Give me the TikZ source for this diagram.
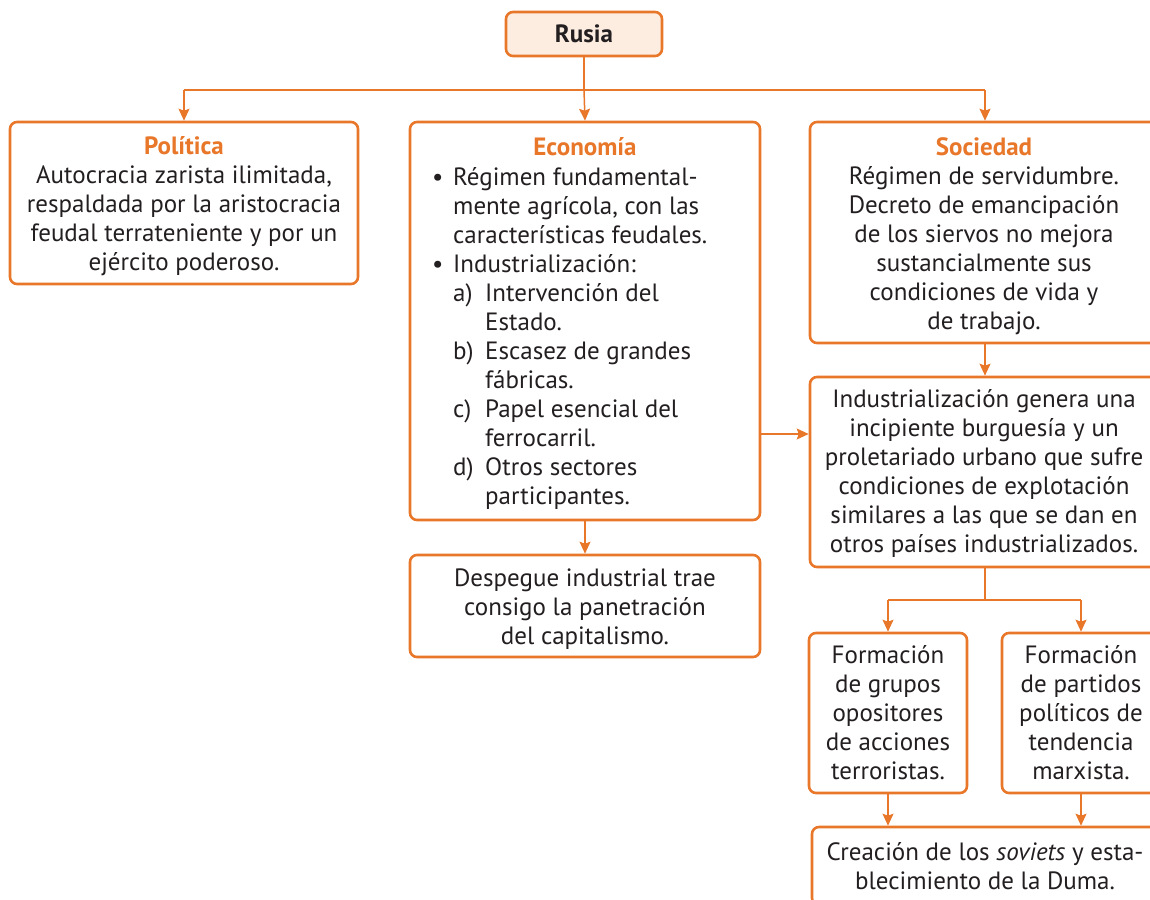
\documentclass[tikz,border=0pt]{standalone}
\usepackage{fontspec}
\setmainfont{PT Sans}
\usetikzlibrary{arrows.meta}
\definecolor{orng}{HTML}{E8772A}
\definecolor{peach}{HTML}{FDEDE1}
\definecolor{ink}{HTML}{231F20}
\newcommand{\bodyfont}{\fontsize{25}{29}\selectfont}
\newcommand{\bul}{\makebox[21pt][l]{\textbullet}}
\newcommand{\itm}[1]{\makebox[32pt][l]{#1}}
\begin{document}
\begin{tikzpicture}[x=1pt,y=-1pt,
  box/.style={draw=orng, line width=2.6pt, rounded corners=7pt, fill=white,
    align=center, inner sep=0pt, text=ink, font=\bodyfont},
  txt/.style={align=center, inner sep=0pt, text=ink, font=\bodyfont},
  ttl/.style={text=orng, font=\bodyfont\bfseries},
  conn/.style={draw=orng, line width=1.5pt},
  arr/.style={conn, -{Stealth[length=12pt,width=11pt,inset=2pt]}}]
\useasboundingbox (0,0) rectangle (1150,899);

\node[box, fill=peach, minimum width=156pt, minimum height=44pt, font=\bodyfont\bfseries] (rusia) at (584,34) {Rusia};

\node[box, minimum width=348pt, minimum height=162pt] (politica) at (184,203) {};
\node[txt] (politicatxt) at (184,206.5)
  {{\color{orng}\bfseries Política}\\ Autocracia zarista ilimitada,\\ respaldada por la aristocracia\\ feudal terrateniente y por un\\ ejército poderoso.};

\node[box, minimum width=350pt, minimum height=398pt] (econ) at (585,321) {};
\node[ttl] (econttl) at (585,147) {Economía};
\node[anchor=west, align=left, inner sep=0pt, text=ink, font=\bodyfont] (econtxt) at (432,338.5)
  {\bul Régimen fundamental-\\
   \hspace*{21pt}mente agrícola, con las\\
   \hspace*{21pt}características feudales.\\
   \bul Industrialización:\\
   \hspace*{21pt}\itm{a)}Intervención del\\
   \hspace*{53pt}Estado.\\
   \hspace*{21pt}\itm{b)}Escasez de grandes\\
   \hspace*{53pt}fábricas.\\
   \hspace*{21pt}\itm{c)}Papel esencial del\\
   \hspace*{53pt}ferrocarril.\\
   \hspace*{21pt}\itm{d)}Otros sectores\\
   \hspace*{53pt}participantes.};

\node[box, minimum width=350pt, minimum height=102pt] (despegue) at (585,606) {};
\node[txt] (despeguetxt) at (585,609)
  {Despegue industrial trae\\ consigo la panetración\\ del capitalismo.};

\node[box, minimum width=350pt, minimum height=221pt] (sociedad) at (985,232.5) {};
\node[txt] (sociedadtxt) at (984,236.5)
  {{\color{orng}\bfseries Sociedad}\\ Régimen de servidumbre.\\ Decreto de emancipación\\ de los siervos no mejora\\ sustancialmente sus\\ condiciones de vida y\\ de trabajo.};

\node[box, minimum width=350pt, minimum height=190pt] (indus) at (985,472) {};
\node[txt] (industxt) at (984,473.5)
  {Industrialización genera una\\ incipiente burguesía y un\\ proletariado urbano que sufre\\ condiciones de explotación\\ similares a las que se dan en\\ otros países industrializados.};

\node[box, minimum width=158pt, minimum height=160pt] (grupos) at (888,713)
  {Formación\\ de grupos\\ opositores\\ de acciones\\ terroristas.};
\node[box, minimum width=158pt, minimum height=160pt] (partidos) at (1081,713)
  {Formación\\ de partidos\\ políticos de\\ tendencia\\ marxista.};

\node[box, minimum width=346pt, minimum height=78pt] (soviets) at (985,866)
  {Creación de los \textit{soviets} y esta-\\ blecimiento de la Duma.};

% connectors
\coordinate (hub) at (584,90);
\coordinate (hl) at (184,90);
\coordinate (hr) at (985,90);
\draw[conn] (rusia.south) -- (hub);
\draw[conn] (hl) -- (hr);
\draw[arr] (hl) -- (politica.north);
\draw[arr] (hub) -- (econ.north);
\draw[arr] (hr) -- (sociedad.north);
\draw[arr] (econ.south) -- (despegue.north);
\draw[arr] (sociedad.south) -- (indus.north);
\coordinate (ea) at (econ.east |- 0,434);
\draw[arr] (ea) -- (indus.west |- ea);
\coordinate (ib) at (985,600);
\coordinate (gl) at (grupos.north |- ib);
\coordinate (pr) at (partidos.north |- ib);
\draw[conn] (indus.south) -- (ib);
\draw[conn] (gl) -- (pr);
\draw[arr] (gl) -- (grupos.north);
\draw[arr] (pr) -- (partidos.north);
\draw[arr] (grupos.south) -- (grupos.south |- soviets.north);
\draw[arr] (partidos.south) -- (partidos.south |- soviets.north);
\end{tikzpicture}
\end{document}
